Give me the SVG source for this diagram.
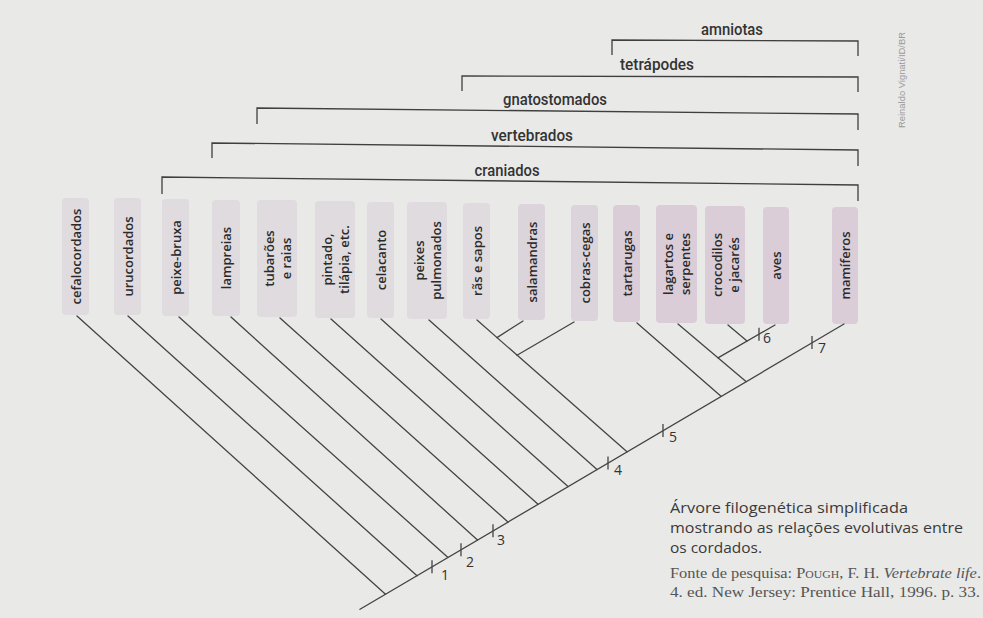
<svg xmlns="http://www.w3.org/2000/svg" width="983" height="618" viewBox="0 0 983 618">
<style>
.bg{fill:#e9e9e8}
.box{stroke:none}
.g{fill:#dfdbde}
.m{fill:#dcd4db}
.p{fill:#dacdd8}
.lbl{font-family:"Open Sans","DejaVu Sans",sans-serif;font-weight:600;font-size:13px;fill:#2b2b2b;text-anchor:middle;dominant-baseline:central}
.br{fill:none;stroke:#3f3f3f;stroke-width:1.3}
.brt{font-family:Roboto,"Open Sans",sans-serif;font-weight:500;font-size:16px;fill:#333;text-anchor:middle}
.ln{fill:none;stroke:#444;stroke-width:1.3;stroke-linecap:round}
.tk{stroke:#444;stroke-width:1.3}
.num{font-family:"Open Sans","DejaVu Sans",sans-serif;font-size:14px;fill:#333}
.cap{font-family:"Open Sans","DejaVu Sans",sans-serif;font-size:14.5px;fill:#3a3a3a}
.src{font-family:"Liberation Serif","Times New Roman",serif;font-size:14px;fill:#555}
.cred{font-family:"Liberation Sans",Arial,sans-serif;font-size:9.5px;fill:#999;text-anchor:middle;dominant-baseline:central}
</style>
<rect class="bg" x="0" y="0" width="983" height="618"/>

<g id="brackets">
  <g id="amniotas">
    <polyline class="br" points="612,55 612,40 858,41 858,56"/>
    <text class="brt" x="732" y="35" textLength="62" lengthAdjust="spacingAndGlyphs">amniotas</text>
  </g>
  <g id="tetrapodes">
    <polyline class="br" points="462,91 462,76 858,77 858,92"/>
    <text class="brt" x="657" y="70" textLength="74" lengthAdjust="spacingAndGlyphs">tetrápodes</text>
  </g>
  <g id="gnatostomados">
    <polyline class="br" points="257,124 257,108 858,114 858,130"/>
    <text class="brt" x="555" y="105" textLength="104" lengthAdjust="spacingAndGlyphs">gnatostomados</text>
  </g>
  <g id="vertebrados">
    <polyline class="br" points="212,158 212,143 858,150 858,166"/>
    <text class="brt" x="532" y="141" textLength="82" lengthAdjust="spacingAndGlyphs">vertebrados</text>
  </g>
  <g id="craniados">
    <polyline class="br" points="162,194 162,177 858,185 858,201"/>
    <text class="brt" x="507" y="176" textLength="65" lengthAdjust="spacingAndGlyphs">craniados</text>
  </g>
</g>

<g id="cefalocordados"><rect class="box g" x="62" y="198" width="27" height="117" rx="4"/><text class="lbl" transform="translate(75.5,256.5) rotate(-90)">cefalocordados</text></g>
<g id="urucordados"><rect class="box g" x="114" y="198" width="27" height="117" rx="4"/><text class="lbl" transform="translate(127.5,256.5) rotate(-90)">urucordados</text></g>
<g id="peixe-bruxa"><rect class="box g" x="162" y="199" width="27" height="117" rx="4"/><text class="lbl" transform="translate(175.5,257.5) rotate(-90)">peixe-bruxa</text></g>
<g id="lampreias"><rect class="box g" x="212" y="200" width="28" height="116" rx="4"/><text class="lbl" transform="translate(226,258) rotate(-90)">lampreias</text></g>
<g id="tubaroes"><rect class="box g" x="257" y="200" width="40" height="117" rx="4"/><text class="lbl" transform="translate(277,258.5) rotate(-90)"><tspan x="0" y="-8.5">tubarões</tspan><tspan x="0" y="8.5">e raias</tspan></text></g>
<g id="pintado"><rect class="box g" x="315" y="201" width="40" height="117" rx="4"/><text class="lbl" transform="translate(335,259.5) rotate(-90)"><tspan x="0" y="-8.5">pintado,</tspan><tspan x="0" y="8.5">tilápia, etc.</tspan></text></g>
<g id="celacanto"><rect class="box g" x="367" y="202" width="27" height="116" rx="4"/><text class="lbl" transform="translate(380.5,260) rotate(-90)">celacanto</text></g>
<g id="peixes-pulmonados"><rect class="box g" x="407" y="202" width="40" height="117" rx="4"/><text class="lbl" transform="translate(427,260.5) rotate(-90)"><tspan x="0" y="-8.5">peixes</tspan><tspan x="0" y="8.5">pulmonados</tspan></text></g>
<g id="ras-e-sapos"><rect class="box g" x="463" y="203" width="27" height="116" rx="4"/><text class="lbl" transform="translate(476.5,261) rotate(-90)">rãs e sapos</text></g>
<g id="salamandras"><rect class="box m" x="518" y="204" width="27" height="116" rx="4"/><text class="lbl" transform="translate(531.5,262) rotate(-90)">salamandras</text></g>
<g id="cobras-cegas"><rect class="box m" x="571" y="205" width="27" height="116" rx="4"/><text class="lbl" transform="translate(584.5,263) rotate(-90)">cobras-cegas</text></g>
<g id="tartarugas"><rect class="box p" x="613" y="205" width="27" height="117" rx="4"/><text class="lbl" transform="translate(626.5,263.5) rotate(-90)">tartarugas</text></g>
<g id="lagartos"><rect class="box p" x="656" y="205" width="41" height="118" rx="4"/><text class="lbl" transform="translate(676.5,264) rotate(-90)"><tspan x="0" y="-8.5">lagartos e</tspan><tspan x="0" y="8.5">serpentes</tspan></text></g>
<g id="crocodilos"><rect class="box p" x="705" y="206" width="40" height="118" rx="4"/><text class="lbl" transform="translate(725,265) rotate(-90)"><tspan x="0" y="-8.5">crocodilos</tspan><tspan x="0" y="8.5">e jacarés</tspan></text></g>
<g id="aves"><rect class="box p" x="763" y="207" width="26" height="117" rx="4"/><text class="lbl" transform="translate(776,265.5) rotate(-90)">aves</text></g>
<g id="mamiferos"><rect class="box p" x="832" y="207" width="26" height="117" rx="4"/><text class="lbl" transform="translate(845,265.5) rotate(-90)">mamíferos</text></g>

<g id="connectors">
  <line class="ln" x1="360" y1="609.3" x2="844" y2="324"/>
  <line class="ln" x1="77" y1="316" x2="385.5" y2="594.3"/>
  <line class="ln" x1="128" y1="316" x2="417" y2="575.7"/>
  <line class="ln" x1="179" y1="317" x2="448" y2="557.4"/>
  <line class="ln" x1="231" y1="317" x2="477.5" y2="540"/>
  <line class="ln" x1="280" y1="318" x2="508" y2="522"/>
  <line class="ln" x1="331" y1="319" x2="538" y2="504.3"/>
  <line class="ln" x1="381" y1="319" x2="568" y2="486.6"/>
  <line class="ln" x1="429" y1="320" x2="597" y2="469.5"/>
  <line class="ln" x1="477" y1="320" x2="627" y2="451.8"/>
  <line class="ln" x1="523" y1="321" x2="497" y2="337.6"/>
  <line class="ln" x1="574" y1="322" x2="517" y2="355.2"/>
  <line class="ln" x1="637" y1="323" x2="721" y2="396.3"/>
  <line class="ln" x1="678" y1="324" x2="746" y2="381.6"/>
  <line class="ln" x1="775" y1="325" x2="718" y2="357.9"/>
  <line class="ln" x1="728" y1="325" x2="747" y2="341.1"/>
</g>

<g id="ticks">
  <line class="tk" x1="432" y1="560.3" x2="432" y2="573.3"/>
  <text class="num" x="441" y="580">1</text>
  <line class="tk" x1="461" y1="543.2" x2="461" y2="556.2"/>
  <text class="num" x="466" y="567">2</text>
  <line class="tk" x1="493" y1="524.3" x2="493" y2="537.3"/>
  <text class="num" x="497" y="545">3</text>
  <line class="tk" x1="608" y1="456.5" x2="608" y2="469.5"/>
  <text class="num" x="614" y="475">4</text>
  <line class="tk" x1="663" y1="424" x2="663" y2="437"/>
  <text class="num" x="669" y="442">5</text>
  <line class="tk" x1="759" y1="327.7" x2="759" y2="340.7"/>
  <text class="num" x="763" y="343">6</text>
  <line class="tk" x1="812" y1="336.1" x2="812" y2="349.1"/>
  <text class="num" x="818" y="353">7</text>
</g>

<text class="cred" transform="translate(901,80) rotate(-90)" textLength="96" lengthAdjust="spacingAndGlyphs">Reinaldo Vignati/ID/BR</text>

<g id="caption">
  <text class="cap" x="670" y="513" textLength="238" lengthAdjust="spacingAndGlyphs">Árvore filogenética simplificada</text>
  <text class="cap" x="670" y="533" textLength="293" lengthAdjust="spacingAndGlyphs">mostrando as relações evolutivas entre</text>
  <text class="cap" x="670" y="553" textLength="92" lengthAdjust="spacingAndGlyphs">os cordados.</text>
  <text class="src" x="670" y="578" textLength="311" lengthAdjust="spacingAndGlyphs">Fonte de pesquisa: <tspan style="font-variant:small-caps">Pough</tspan>, F. H. <tspan font-style="italic">Vertebrate life</tspan>.</text>
  <text class="src" x="670" y="597" textLength="310" lengthAdjust="spacingAndGlyphs">4. ed. New Jersey: Prentice Hall, 1996. p. 33.</text>
</g>
</svg>
